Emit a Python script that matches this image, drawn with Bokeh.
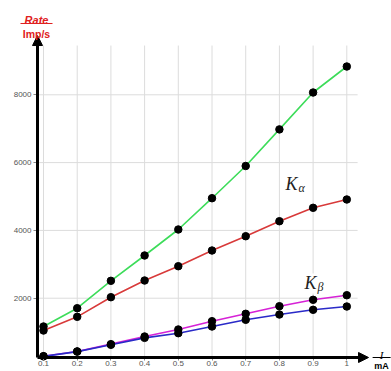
from bokeh.plotting import figure
from bokeh.models import Range1d, FixedTicker, Label, Arrow, NormalHead
from bokeh.embed import file_html
from bokeh.resources import INLINE

# ---- data ----
current = [0.1, 0.2, 0.3, 0.4, 0.5, 0.6, 0.7, 0.8, 0.9, 1.0]
green_rate = [1165, 1705, 2513, 3260, 4027, 4950, 5900, 6980, 8068, 8835]
red_rate = [1047, 1451, 2030, 2522, 2944, 3407, 3829, 4271, 4667, 4912]
magenta_rate = [290, 430, 645, 870, 1077, 1322, 1540, 1764, 1953, 2088]
blue_rate = [285, 425, 625, 830, 968, 1165, 1363, 1519, 1658, 1755]
x_ticks = [0.1, 0.2, 0.3, 0.4, 0.5, 0.6, 0.7, 0.8, 0.9, 1.0]
x_tick_labels = ["0.1", "0.2", "0.3", "0.4", "0.5", "0.6", "0.7", "0.8", "0.9", "1"]
y_ticks = [2000, 4000, 6000, 8000]

X0, X1 = -0.0276, 1.1326
Y0, Y1 = -162, 10782
AX_X = 0.0822   # where the y-axis sits
AX_Y = 251      # where the x-axis sits

p = figure(width=391, height=371, output_backend="svg", toolbar_location=None,
           x_range=Range1d(X0, X1), y_range=Range1d(Y0, Y1),
           min_border_left=0, min_border_right=0, min_border_top=0, min_border_bottom=0)
p.outline_line_color = None
p.xgrid.visible = False
p.ygrid.visible = False

# grid lines
p.segment(x0=x_ticks, y0=[AX_Y] * len(x_ticks), x1=x_ticks, y1=[9454] * len(x_ticks),
          line_color="#dcdcdc", line_width=1)
p.segment(x0=[AX_X] * len(y_ticks), y0=y_ticks, x1=[1.032] * len(y_ticks), y1=y_ticks,
          line_color="#dcdcdc", line_width=1)

# axes styling (placed inside the frame)
for ax in (p.xaxis[0], p.yaxis[0]):
    ax.axis_line_color = None
    ax.major_tick_line_color = "#888888"
    ax.minor_tick_line_color = None
    ax.major_tick_in = 0
    ax.major_label_text_color = "#555555"
    ax.major_label_text_font = "Liberation Sans"
    ax.major_label_text_font_size = "8px"
p.xaxis[0].fixed_location = AX_Y
p.yaxis[0].fixed_location = AX_X
p.xaxis[0].major_tick_out = 3
p.xaxis[0].major_label_standoff = 1
p.yaxis[0].major_tick_out = 4
p.yaxis[0].major_label_standoff = 2
p.xaxis[0].ticker = FixedTicker(ticks=x_ticks)
p.xaxis[0].major_label_overrides = {t: l for t, l in zip(x_ticks, x_tick_labels)}
p.yaxis[0].ticker = FixedTicker(ticks=y_ticks)

# series
series = [(green_rate, "#3ddc5a"), (red_rate, "#d83a3a"),
          (magenta_rate, "#d622d6"), (blue_rate, "#2a2ac8")]
for ys, col in series:
    p.line(current, ys, line_color=col, line_width=1.6)
for ys, col in series:
    p.scatter(current, ys, size=7.5, fill_color="black", line_color="black")

# axis arrows
p.add_layout(Arrow(x_start=AX_X, y_start=AX_Y, x_end=AX_X, y_end=9749, line_width=3,
                   line_color="black",
                   end=NormalHead(size=10, fill_color="black", line_color="black")))
p.add_layout(Arrow(x_start=AX_X, y_start=AX_Y, x_end=1.0644, y_end=AX_Y, line_width=3,
                   line_color="black",
                   end=NormalHead(size=10, fill_color="black", line_color="black")))

# K labels
serif = "Liberation Serif"
for x, y, t, fs in [(0.818, 5383, "K", "18px"), (0.857, 5265, "α", "12px"),
                    (0.8745, 2434, "K", "18px"), (0.913, 2316, "β", "12px")]:
    p.add_layout(Label(x=x, y=y, text=t, text_font=serif, text_font_style="italic",
                       text_font_size=fs, text_color="#222222", text_baseline="alphabetic",
                       background_fill_color="white"))

# y-axis title (fraction)
red = "#e02020"
p.add_layout(Label(x=0.0792, y=10221, text="Rate", text_align="center", text_baseline="alphabetic",
                   text_font="Liberation Sans", text_font_style="bold italic",
                   text_font_size="11px", text_color=red))
p.add_layout(Arrow(x_start=0.0317, y_start=10103, x_end=0.1267, y_end=10103,
                   line_color=red, line_width=1.2, end=None))
p.add_layout(Label(x=0.0792, y=9808, text="Imp/s", text_align="center", text_baseline="alphabetic",
                   text_font="Liberation Sans", text_font_style="bold",
                   text_font_size="10.5px", text_color=red))

# x-axis title (fraction)
p.add_layout(Label(x=1.103, y=330, text="I", text_align="center", text_baseline="alphabetic",
                   text_font=serif, text_font_style="italic",
                   text_font_size="11px", text_color="black"))
p.add_layout(Arrow(x_start=1.0766, y_start=AX_Y, x_end=1.1300, y_end=AX_Y,
                   line_color="black", line_width=1.2, end=None))
p.add_layout(Label(x=1.103, y=-150, text="mA", text_align="center", text_baseline="bottom",
                   text_font="Liberation Sans", text_font_style="bold",
                   text_font_size="9px", text_color="black"))

open("out.html", "w").write(file_html(p, INLINE))
